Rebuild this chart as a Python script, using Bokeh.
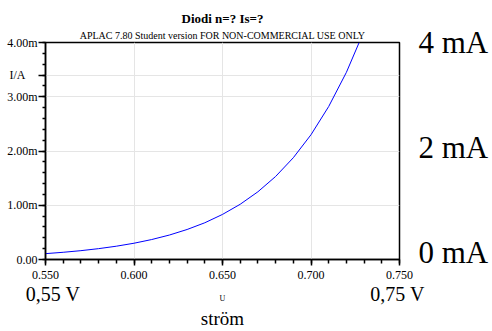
from bokeh.plotting import figure
from bokeh.models import (Range1d, CustomJSTickFormatter, FixedTicker, LinearAxis,
                          Title)
from bokeh.embed import file_html
from bokeh.resources import INLINE

# data (U in V, I in A)
u_values = [0.550, 0.560, 0.570, 0.580, 0.590, 0.600, 0.610, 0.620, 0.630,
            0.640, 0.650, 0.660, 0.670, 0.680, 0.690, 0.700, 0.710, 0.720, 0.7272]
i_values = [0.108e-3, 0.133e-3, 0.163e-3, 0.200e-3, 0.245e-3, 0.300e-3, 0.368e-3,
            0.451e-3, 0.553e-3, 0.677e-3, 0.831e-3, 1.018e-3, 1.248e-3, 1.530e-3,
            1.876e-3, 2.300e-3, 2.820e-3, 3.450e-3, 4.000e-3]
x_ticks = [0.55, 0.60, 0.65, 0.70, 0.75]
y_ticks = [0.0, 1e-3, 2e-3, 3e-3, 4e-3]
y_label_pos = 3.4e-3
title_text = "Diodi n=? Is=?"
subtitle_text = "APLAC 7.80 Student version FOR NON-COMMERCIAL USE ONLY"
y_label = "I/A"
x_label = "U"
ma_ticks = [0, 2, 4]          # "0 mA", "2 mA", "4 mA"
volt_ticks = [0.55, 0.75]     # "0,55 V", "0,75 V"
bottom_caption = "str\u00f6m"

SERIF = "Liberation Serif"

p = figure(width=492, height=331, output_backend="svg", toolbar_location=None,
           x_range=Range1d(0.55, 0.75), y_range=Range1d(0.0, 0.004),
           min_border_left=45, min_border_right=93, min_border_top=42,
           min_border_bottom=72)
p.background_fill_color = "white"
p.border_fill_color = "white"
p.outline_line_color = "black"
p.outline_line_width = 1.5

p.extra_y_ranges = {"mA": Range1d(-0.14, 4.0)}
p.extra_x_ranges = {"V": Range1d(0.545646, 0.751161)}

p.line(u_values, i_values, line_color="#0000ff", line_width=1)

# main axes
p.xaxis.ticker = FixedTicker(ticks=x_ticks, minor_ticks=[0.55 + 0.01 * k for k in range(21)])
p.yaxis.ticker = FixedTicker(ticks=y_ticks + [y_label_pos],
                             minor_ticks=[0.0002 * k for k in range(21)])
p.xaxis.formatter = CustomJSTickFormatter(code="return tick.toFixed(3);")
p.yaxis.formatter = CustomJSTickFormatter(
    args=dict(lab=y_label, pos=y_label_pos),
    code="""
    if (Math.abs(tick - pos) < 1e-9) { return lab + '\\u00a0\\u00a0\\u00a0\\u00a0'; }
    return tick == 0 ? '0.00' : (tick*1000).toFixed(2) + 'm';""")
for axs in (p.xaxis, p.yaxis):
    axs.axis_line_color = "black"
    axs.axis_line_width = 1.5
    axs.major_tick_line_color = "black"
    axs.minor_tick_line_color = "black"
    axs.major_tick_line_width = 1.5
    axs.minor_tick_line_width = 1.5
    axs.major_tick_in = 0
    axs.minor_tick_in = 0
    axs.major_label_text_font = SERIF
    axs.major_label_text_font_style = "normal"
    axs.major_label_text_color = "black"
    axs.major_label_text_font_size = "12px"
p.xaxis.major_tick_out = 6
p.xaxis.minor_tick_out = 4
p.yaxis.major_tick_out = 7
p.yaxis.minor_tick_out = 3
p.xaxis.major_label_standoff = 5
p.yaxis.major_label_standoff = 1

# right axis with mA labels
ax_r = LinearAxis(y_range_name="mA", ticker=FixedTicker(ticks=ma_ticks, minor_ticks=[]),
                  formatter=CustomJSTickFormatter(code="return tick.toFixed(0) + ' mA';"))
ax_r.axis_line_color = None
ax_r.major_tick_line_color = None
ax_r.minor_tick_line_color = None
ax_r.major_tick_out = 0
ax_r.major_tick_in = 0
ax_r.major_label_standoff = 19
ax_r.major_label_text_font = SERIF
ax_r.major_label_text_font_size = "31px"
ax_r.major_label_text_color = "black"
p.add_layout(ax_r, "right")

# second bottom axis with volt labels, axis label "U"
ax_v = LinearAxis(x_range_name="V", ticker=FixedTicker(ticks=volt_ticks, minor_ticks=[]),
                  formatter=CustomJSTickFormatter(
                      code="return tick.toFixed(2).replace('.', ',') + ' V';"))
ax_v.axis_line_color = None
ax_v.major_tick_line_color = None
ax_v.minor_tick_line_color = None
ax_v.major_tick_out = 0
ax_v.major_tick_in = 0
ax_v.major_label_standoff = 1
ax_v.major_label_text_font = SERIF
ax_v.major_label_text_font_size = "20px"
ax_v.major_label_text_color = "black"
ax_v.axis_label = x_label
ax_v.axis_label_text_font = SERIF
ax_v.axis_label_text_font_size = "8px"
ax_v.axis_label_text_font_style = "normal"
ax_v.axis_label_text_color = "black"
ax_v.axis_label_standoff = -14
p.add_layout(ax_v, "below")

p.add_layout(Title(text=bottom_caption, align="center", offset=7, text_font=SERIF,
                   text_font_size="19px", text_font_style="normal",
                   text_color="black", standoff=0), "below")

# titles above
p.add_layout(Title(text=subtitle_text, align="center", text_font=SERIF,
                   text_font_size="10px", text_font_style="normal",
                   text_color="black", standoff=3), "above")
p.add_layout(Title(text=title_text, align="center", text_font=SERIF,
                   text_font_size="13px", text_font_style="bold",
                   text_color="black", standoff=2), "above")

open("out.html", "w").write(file_html(p, INLINE))
